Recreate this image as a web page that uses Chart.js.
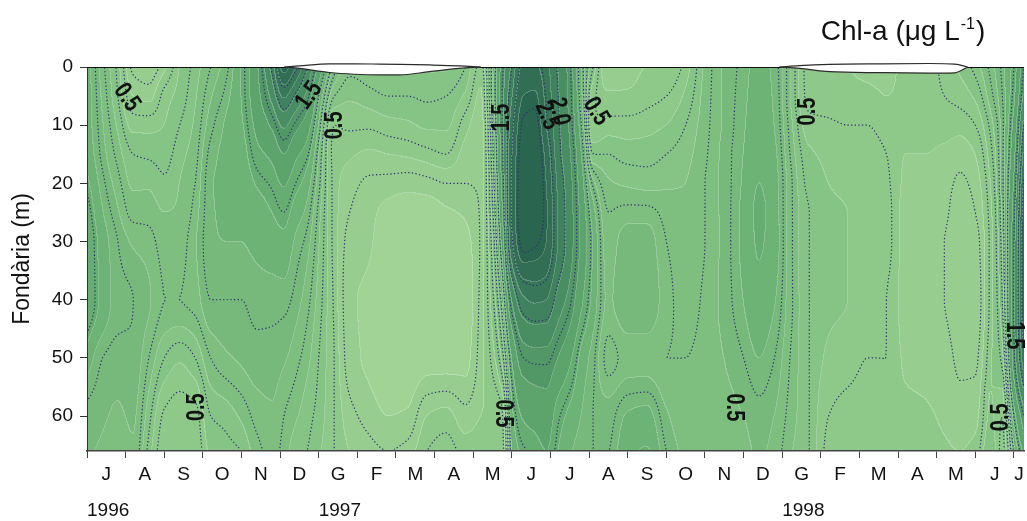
<!DOCTYPE html>
<html>
<head>
<meta charset="utf-8">
<title>Chl-a</title>
<script src="https://cdn.jsdelivr.net/npm/chart.js@4.4.1/dist/chart.umd.min.js"></script>
<style>
  html, body { margin: 0; padding: 0; background: #ffffff; }
  #wrap { width: 1027px; height: 521px; }
</style>
</head>
<body>
<div id="wrap"><canvas id="chart" width="1027" height="521"></canvas></div>
<script>
// Sampling dates, in months counted from 1 July 1996
const sampleMonths = [0, 0.4, 0.8, 1.2, 1.6, 2.0, 2.4, 2.8, 3.2, 3.6, 4.0, 4.4, 4.8, 5.1, 5.4, 5.7, 6.0, 6.4, 6.8, 7.3,
  7.8, 8.3, 8.8, 9.3, 9.8, 10.2, 10.5, 10.75, 11.0, 11.3, 11.6, 11.9, 12.2, 12.5, 12.8, 13.1, 13.5, 14.0, 14.5, 15.0,
  15.5, 16.0, 16.5, 17.0, 17.4, 17.8, 18.2, 18.7, 19.2, 19.7, 20.2, 20.7, 21.2, 21.7, 22.2, 22.6, 23.0, 23.4, 23.7, 24.0, 24.3];

// Sampling depths (m)
const depths = [0, 5, 10, 15, 20, 25, 30, 40, 50, 60, 66];

// Chl-a (µg/L): one profile per sampling date, one value per depth
const chlProfiles = [
  [0.90, 0.90, 0.90, 0.92, 0.98, 1.05, 1.10, 1.10, 0.90, 0.78, 0.76],
  [0.72, 0.74, 0.76, 0.78, 0.82, 0.86, 0.90, 0.92, 0.80, 0.76, 0.74],
  [0.58, 0.60, 0.64, 0.68, 0.72, 0.76, 0.80, 0.82, 0.78, 0.74, 0.72],
  [0.38, 0.45, 0.53, 0.60, 0.64, 0.68, 0.74, 0.80, 0.79, 0.76, 0.74],
  [0.36, 0.43, 0.53, 0.59, 0.64, 0.68, 0.72, 0.76, 0.70, 0.62, 0.58],
  [0.43, 0.52, 0.55, 0.58, 0.61, 0.65, 0.68, 0.70, 0.60, 0.49, 0.46],
  [0.55, 0.57, 0.60, 0.63, 0.65, 0.66, 0.68, 0.70, 0.56, 0.47, 0.45],
  [0.62, 0.64, 0.66, 0.68, 0.70, 0.72, 0.74, 0.72, 0.60, 0.48, 0.46],
  [0.70, 0.74, 0.78, 0.82, 0.84, 0.84, 0.84, 0.80, 0.70, 0.60, 0.56],
  [0.78, 0.82, 0.86, 0.87, 0.87, 0.86, 0.85, 0.80, 0.74, 0.62, 0.58],
  [0.95, 0.95, 0.93, 0.90, 0.88, 0.86, 0.85, 0.80, 0.76, 0.66, 0.60],
  [1.30, 1.25, 1.15, 1.05, 0.96, 0.90, 0.87, 0.82, 0.78, 0.72, 0.68],
  [2.10, 1.75, 1.40, 1.15, 1.02, 0.95, 0.90, 0.82, 0.78, 0.74, 0.72],
  [3.00, 2.30, 1.70, 1.35, 1.12, 1.00, 0.92, 0.82, 0.76, 0.70, 0.68],
  [2.60, 1.95, 1.45, 1.15, 1.00, 0.90, 0.84, 0.78, 0.72, 0.66, 0.62],
  [2.00, 1.58, 1.22, 1.02, 0.90, 0.83, 0.78, 0.72, 0.67, 0.62, 0.60],
  [1.30, 1.00, 0.85, 0.76, 0.72, 0.68, 0.66, 0.63, 0.60, 0.58, 0.56],
  [0.74, 0.60, 0.50, 0.48, 0.48, 0.48, 0.48, 0.49, 0.50, 0.50, 0.50],
  [0.62, 0.56, 0.51, 0.46, 0.42, 0.40, 0.38, 0.36, 0.37, 0.42, 0.45],
  [0.64, 0.58, 0.51, 0.44, 0.39, 0.37, 0.36, 0.34, 0.34, 0.38, 0.42],
  [0.66, 0.60, 0.53, 0.45, 0.38, 0.33, 0.31, 0.30, 0.31, 0.35, 0.40],
  [0.66, 0.60, 0.54, 0.46, 0.37, 0.32, 0.30, 0.28, 0.30, 0.36, 0.42],
  [0.66, 0.61, 0.56, 0.48, 0.38, 0.32, 0.30, 0.29, 0.32, 0.45, 0.50],
  [0.66, 0.60, 0.56, 0.50, 0.40, 0.34, 0.30, 0.29, 0.32, 0.47, 0.53],
  [0.60, 0.54, 0.47, 0.43, 0.40, 0.36, 0.33, 0.31, 0.33, 0.42, 0.48],
  [0.48, 0.44, 0.42, 0.41, 0.41, 0.41, 0.41, 0.42, 0.43, 0.45, 0.48],
  [0.85, 0.85, 0.80, 0.76, 0.72, 0.68, 0.64, 0.58, 0.52, 0.46, 0.46],
  [1.45, 1.50, 1.50, 1.45, 1.38, 1.28, 1.15, 0.85, 0.66, 0.49, 0.48],
  [2.00, 2.20, 2.40, 2.50, 2.55, 2.55, 2.45, 1.65, 1.10, 0.90, 0.84],
  [2.60, 2.85, 3.05, 3.15, 3.20, 3.20, 3.10, 2.20, 1.50, 1.12, 0.98],
  [2.60, 2.90, 3.10, 3.20, 3.25, 3.20, 3.05, 2.30, 1.55, 1.18, 1.02],
  [2.35, 2.45, 2.55, 2.75, 2.85, 2.90, 2.85, 2.25, 1.55, 1.22, 1.10],
  [1.95, 2.00, 2.05, 2.10, 2.20, 2.25, 2.25, 1.85, 1.35, 1.02, 0.95],
  [1.55, 1.58, 1.62, 1.70, 1.78, 1.82, 1.82, 1.55, 1.15, 0.92, 0.86],
  [0.85, 0.90, 1.00, 1.12, 1.22, 1.28, 1.30, 1.15, 0.92, 0.85, 0.82],
  [0.60, 0.52, 0.50, 0.60, 0.78, 0.90, 0.95, 0.92, 0.82, 0.80, 0.80],
  [0.40, 0.46, 0.52, 0.60, 0.66, 0.70, 0.72, 0.74, 0.68, 0.78, 0.80],
  [0.42, 0.46, 0.52, 0.58, 0.64, 0.72, 0.78, 0.80, 0.72, 0.86, 0.92],
  [0.45, 0.48, 0.53, 0.58, 0.63, 0.72, 0.78, 0.80, 0.72, 0.88, 0.96],
  [0.45, 0.50, 0.55, 0.60, 0.64, 0.68, 0.70, 0.72, 0.70, 0.76, 0.80],
  [0.52, 0.56, 0.60, 0.63, 0.65, 0.66, 0.67, 0.68, 0.70, 0.72, 0.74],
  [0.66, 0.67, 0.68, 0.69, 0.70, 0.70, 0.70, 0.71, 0.72, 0.74, 0.75],
  [0.76, 0.76, 0.76, 0.77, 0.77, 0.77, 0.77, 0.77, 0.75, 0.73, 0.72],
  [0.82, 0.83, 0.84, 0.85, 0.86, 0.87, 0.87, 0.85, 0.80, 0.75, 0.73],
  [0.88, 0.89, 0.90, 0.92, 0.95, 0.97, 0.96, 0.92, 0.85, 0.78, 0.76],
  [0.83, 0.84, 0.85, 0.87, 0.89, 0.90, 0.90, 0.86, 0.80, 0.75, 0.73],
  [0.66, 0.66, 0.68, 0.70, 0.72, 0.72, 0.72, 0.72, 0.70, 0.68, 0.66],
  [0.47, 0.48, 0.52, 0.56, 0.58, 0.60, 0.60, 0.60, 0.60, 0.60, 0.60],
  [0.45, 0.47, 0.51, 0.54, 0.55, 0.56, 0.56, 0.56, 0.54, 0.50, 0.48],
  [0.45, 0.46, 0.50, 0.53, 0.54, 0.55, 0.55, 0.55, 0.52, 0.48, 0.46],
  [0.44, 0.46, 0.50, 0.52, 0.53, 0.54, 0.54, 0.53, 0.50, 0.48, 0.46],
  [0.44, 0.45, 0.48, 0.50, 0.51, 0.52, 0.52, 0.50, 0.50, 0.50, 0.50],
  [0.46, 0.46, 0.46, 0.45, 0.44, 0.43, 0.43, 0.43, 0.44, 0.47, 0.50],
  [0.47, 0.47, 0.46, 0.45, 0.43, 0.42, 0.42, 0.42, 0.43, 0.46, 0.48],
  [0.52, 0.50, 0.47, 0.44, 0.42, 0.41, 0.40, 0.40, 0.42, 0.44, 0.46],
  [0.56, 0.52, 0.47, 0.42, 0.39, 0.37, 0.36, 0.37, 0.39, 0.42, 0.45],
  [0.62, 0.56, 0.50, 0.45, 0.42, 0.40, 0.38, 0.37, 0.39, 0.43, 0.47],
  [0.72, 0.68, 0.62, 0.58, 0.55, 0.53, 0.52, 0.52, 0.54, 0.56, 0.60],
  [0.82, 0.80, 0.78, 0.78, 0.78, 0.76, 0.74, 0.70, 0.62, 0.50, 0.48],
  [1.00, 1.05, 1.15, 1.25, 1.35, 1.45, 1.50, 1.55, 1.45, 1.00, 0.80],
  [1.60, 1.80, 2.20, 2.50, 2.80, 2.95, 3.00, 3.00, 2.60, 1.60, 1.20]
];

// Month initials (Catalan) from July 1996 to July 1998
const monthLabels = ['J', 'A', 'S', 'O', 'N', 'D', 'G', 'F', 'M', 'A', 'M', 'J', 'J', 'A', 'S', 'O', 'N', 'D', 'G', 'F', 'M', 'A', 'M', 'J', 'J'];
const yearLabels = ['1996', '1997', '1998'];
const yearStartMonths = [0, 6, 18];

// Reservoir drawdown below full level (m): lower outline and upper outline of each episode
const drawdown1Months = [5.11, 5.5, 6.28, 6.92, 7.57, 8.09, 8.87, 9.64, 10.19];
const drawdown1Lower = [0, 0.25, 0.95, 1.25, 1.37, 1.37, 0.8, 0.25, 0];
const drawdown1Upper = [0, -0.2, -0.55, -0.55, -0.5, -0.45, -0.35, -0.2, 0];
const drawdown2Months = [17.93, 18.45, 19.23, 20.52, 21.82, 22.47, 22.8];
const drawdown2Lower = [0, 0.25, 0.8, 0.97, 1.05, 1.0, 0];
const drawdown2Upper = [0, -0.25, -0.45, -0.55, -0.6, -0.5, 0];

// Filled band limits and dotted isoline levels (µg/L)
const bandLimits = [0.35, 0.45, 0.55, 0.65, 0.75, 0.85, 0.95, 1.1, 1.35, 1.65, 1.95, 2.25, 2.55, 2.85];
const isolineLevels = [0.4, 0.5, 0.6, 0.7, 0.8, 1.0, 1.5, 2.0, 2.5, 3.0];

// Isoline labels: level, approximate position (month, depth) and text angle
const isolineLabelLevels = [0.5, 1.5, 0.5, 0.5, 1.5, 2.0, 2.5, 0.5, 0.5, 0.5, 0.5, 1.5, 0.5];
const isolineLabelMonths = [1.17, 5.8, 6.54, 2.83, 10.78, 11.9, 12.3, 13.0, 10.83, 18.66, 16.74, 24.0, 23.75];
const isolineLabelDepths = [5.1, 5.1, 7.5, 58.4, 8.8, 7.7, 8.2, 7.7, 59.5, 7.7, 58.5, 46.3, 59.0];
const isolineLabelAngles = [55, -55, -90, -90, -90, 78, 68, 58, 90, -90, 90, 90, -90];

const X_MAX = 24.26;
const Y_MAX = 66;
const FONT = "'Liberation Sans', Arial, Helvetica, sans-serif";

const bandColors = ['#a1d395', '#97ce8f', '#8ec98a', '#86c485', '#7ebf80', '#76b97b', '#6eb376', '#66ad71',
  '#5ca36c', '#529867', '#498d62', '#40825d', '#387858', '#316e54', '#2a654f'];

function hexToRgb(h) {
  const n = parseInt(h.slice(1), 16);
  return [(n >> 16) & 255, (n >> 8) & 255, n & 255];
}
const bandRgb = bandColors.map(hexToRgb);

// Monotone piecewise cubic (PCHIP) helpers
function pchipSlopes(x, y) {
  const n = x.length, m = new Float64Array(n);
  const h = new Float64Array(n - 1), del = new Float64Array(n - 1);
  for (let k = 0; k < n - 1; k++) { h[k] = x[k + 1] - x[k]; del[k] = (y[k + 1] - y[k]) / h[k]; }
  m[0] = del[0]; m[n - 1] = del[n - 2];
  for (let k = 1; k < n - 1; k++) {
    if (del[k - 1] * del[k] <= 0) m[k] = 0;
    else {
      const w1 = 2 * h[k] + h[k - 1], w2 = h[k] + 2 * h[k - 1];
      m[k] = (w1 + w2) / (w1 / del[k - 1] + w2 / del[k]);
    }
  }
  return m;
}
function pchipEval(x, y, m, xq) {
  const n = x.length;
  if (xq <= x[0]) return y[0];
  if (xq >= x[n - 1]) return y[n - 1];
  let lo = 0, hi = n - 1;
  while (hi - lo > 1) { const mid = (lo + hi) >> 1; if (x[mid] <= xq) lo = mid; else hi = mid; }
  const h = x[hi] - x[lo], s = (xq - x[lo]) / h, s2 = s * s, s3 = s2 * s;
  return (2 * s3 - 3 * s2 + 1) * y[lo] + (s3 - 2 * s2 + s) * h * m[lo] + (-2 * s3 + 3 * s2) * y[hi] + (s3 - s2) * h * m[hi];
}

// Chl-a value at every pixel of the plot area, located through the chart scales
function computeField(chart) {
  const area = chart.chartArea;
  const xs = chart.scales.x, ys = chart.scales.y;
  const x0 = Math.round(area.left), y0 = Math.round(area.top);
  const W = Math.round(area.right) - x0, H = Math.round(area.bottom) - y0;
  const key = [x0, y0, W, H].join(',');
  if (chart.$chl && chart.$chl.key === key) return chart.$chl;

  const rowDepth = new Float64Array(H);
  for (let j = 0; j < H; j++) rowDepth[j] = ys.getValueForPixel(y0 + j + 0.5);
  const colMonth = new Float64Array(W);
  for (let i = 0; i < W; i++) colMonth[i] = xs.getValueForPixel(x0 + i + 0.5);

  const byDate = chlProfiles.map(p => {
    const s = pchipSlopes(depths, p);
    const out = new Float64Array(H);
    for (let j = 0; j < H; j++) out[j] = pchipEval(depths, p, s, rowDepth[j]);
    return out;
  });
  const values = new Float32Array(W * H);
  const row = new Array(sampleMonths.length);
  for (let j = 0; j < H; j++) {
    for (let k = 0; k < sampleMonths.length; k++) row[k] = byDate[k][j];
    const s = pchipSlopes(sampleMonths, row);
    for (let i = 0; i < W; i++) values[j * W + i] = pchipEval(sampleMonths, row, s, colMonth[i]);
  }
  chart.$chl = { key, x0, y0, W, H, values, lines: null };
  return chart.$chl;
}

function bandOf(v) {
  let b = 0;
  while (b < bandLimits.length && v >= bandLimits[b]) b++;
  return b;
}

function drawBands(chart) {
  const f = computeField(chart);
  const { W, H, values } = f;
  const off = document.createElement('canvas');
  off.width = W; off.height = H;
  const octx = off.getContext('2d');
  const img = octx.createImageData(W, H);
  const band = new Uint8Array(W * H);
  for (let p = 0; p < W * H; p++) band[p] = bandOf(values[p]);
  const d = img.data;
  for (let j = 0; j < H; j++) {
    for (let i = 0; i < W; i++) {
      const p = j * W + i, b = band[p];
      let [r, g, bl] = bandRgb[b];
      const edge = (i < W - 1 && band[p + 1] !== b) || (j < H - 1 && band[p + W] !== b);
      if (edge) { r += (255 - r) * 0.22; g += (255 - g) * 0.22; bl += (255 - bl) * 0.22; }
      d[p * 4] = r; d[p * 4 + 1] = g; d[p * 4 + 2] = bl; d[p * 4 + 3] = 255;
    }
  }
  octx.putImageData(img, 0, 0);
  chart.ctx.drawImage(off, f.x0, f.y0);
}

// Marching squares, chained into polylines (grid coordinates)
function traceIsolines(g, nx, ny, level) {
  const pos = new Map(), adj = new Map();
  const link = (a, b) => {
    if (!adj.has(a)) adj.set(a, []);
    if (!adj.has(b)) adj.set(b, []);
    adj.get(a).push(b); adj.get(b).push(a);
  };
  const hKey = (i, j) => (j * nx + i) * 2, vKey = (i, j) => (j * nx + i) * 2 + 1;
  for (let j = 0; j < ny - 1; j++) {
    for (let i = 0; i < nx - 1; i++) {
      const a = g[j * nx + i], b = g[j * nx + i + 1], c = g[(j + 1) * nx + i + 1], d = g[(j + 1) * nx + i];
      const A = a > level, B = b > level, C = c > level, D = d > level;
      if (A === B && B === C && C === D) continue;
      const e = [];
      if (A !== B) { const k = hKey(i, j); if (!pos.has(k)) pos.set(k, [i + (level - a) / (b - a), j]); e.push(k); } else e.push(-1);
      if (B !== C) { const k = vKey(i + 1, j); if (!pos.has(k)) pos.set(k, [i + 1, j + (level - b) / (c - b)]); e.push(k); } else e.push(-1);
      if (D !== C) { const k = hKey(i, j + 1); if (!pos.has(k)) pos.set(k, [i + (level - d) / (c - d), j + 1]); e.push(k); } else e.push(-1);
      if (A !== D) { const k = vKey(i, j); if (!pos.has(k)) pos.set(k, [i, j + (level - a) / (d - a)]); e.push(k); } else e.push(-1);
      const act = e.filter(k => k >= 0);
      if (act.length === 2) link(act[0], act[1]);
      else if (act.length === 4) {
        const ctr = (a + b + c + d) / 4 > level;
        if (ctr === A) { link(e[0], e[1]); link(e[2], e[3]); }
        else { link(e[0], e[3]); link(e[1], e[2]); }
      }
    }
  }
  const seen = new Set(), lines = [];
  const walk = start => {
    const pts = [pos.get(start)];
    seen.add(start);
    let prev = -1, cur = start;
    for (;;) {
      const nb = adj.get(cur);
      let next = -1;
      for (const n of nb) if (n !== prev && !seen.has(n)) { next = n; break; }
      if (next < 0) {
        if (pts.length > 2 && nb.includes(start)) pts.push(pos.get(start));
        break;
      }
      seen.add(next); pts.push(pos.get(next)); prev = cur; cur = next;
    }
    lines.push(pts);
  };
  for (const [k, nb] of adj) if (nb.length === 1 && !seen.has(k)) walk(k);
  for (const k of adj.keys()) if (!seen.has(k)) walk(k);
  return lines;
}

function buildIsolines(chart) {
  const f = computeField(chart);
  if (f.lines) return f.lines;
  const step = 2;
  const nx = Math.floor((f.W - 1) / step) + 1, ny = Math.floor((f.H - 1) / step) + 1;
  const g = new Float32Array(nx * ny);
  for (let j = 0; j < ny; j++)
    for (let i = 0; i < nx; i++) g[j * nx + i] = f.values[(j * step) * f.W + i * step];
  f.lines = isolineLevels.map(level => ({
    level,
    paths: traceIsolines(g, nx, ny, level).map(pts => pts.map(([gx, gy]) => [f.x0 + gx * step + 0.5, f.y0 + gy * step + 0.5]))
  }));
  return f.lines;
}

function drawIsolines(chart) {
  const ctx = chart.ctx, area = chart.chartArea;
  const sets = buildIsolines(chart);
  ctx.save();
  ctx.beginPath();
  ctx.rect(area.left, area.top, area.right - area.left, area.bottom - area.top);
  ctx.clip();
  ctx.setLineDash([1.3, 2.3]);
  ctx.lineWidth = 1.2;
  ctx.strokeStyle = '#2f2f72';
  for (const set of sets) {
    for (const path of set.paths) {
      if (path.length < 2) continue;
      ctx.beginPath();
      ctx.moveTo(path[0][0], path[0][1]);
      for (let k = 1; k < path.length; k++) ctx.lineTo(path[k][0], path[k][1]);
      ctx.stroke();
    }
  }
  ctx.restore();

  // labels sit on the nearest point of their own isoline
  const xs = chart.scales.x, ys = chart.scales.y;
  ctx.save();
  ctx.fillStyle = '#111111';
  ctx.font = 'bold 20px ' + FONT;
  ctx.textAlign = 'center';
  ctx.textBaseline = 'middle';
  isolineLabelLevels.forEach((level, n) => {
    const px = xs.getPixelForValue(isolineLabelMonths[n]);
    const py = ys.getPixelForValue(isolineLabelDepths[n]);
    const set = sets.find(s => Math.abs(s.level - level) < 1e-9);
    let best = 22 * 22, bx = px, by = py;
    if (set) for (const path of set.paths) for (const [qx, qy] of path) {
      const dd = (qx - px) * (qx - px) + (qy - py) * (qy - py);
      if (dd < best) { best = dd; bx = qx; by = qy; }
    }
    ctx.save();
    ctx.translate(bx, by);
    ctx.rotate(isolineLabelAngles[n] * Math.PI / 180);
    ctx.scale(1, 1.25);
    ctx.fillText(level.toFixed(1), 0, 0);
    ctx.restore();
  });
  ctx.restore();

  // top edge of the plot (full reservoir level)
  ctx.save();
  ctx.fillStyle = '#111111';
  ctx.fillRect(area.left, area.top, area.right - area.left, 1);
  ctx.restore();
}

const chlFieldPlugin = {
  id: 'chlField',
  beforeDraw(chart) { drawBands(chart); },
  beforeDatasetsDraw(chart) { drawIsolines(chart); }
};

const unitTitlePlugin = {
  id: 'unitTitle',
  afterDraw(chart) {
    const ctx = chart.ctx;
    ctx.save();
    ctx.fillStyle = '#111111';
    ctx.textBaseline = 'alphabetic';
    const main = 'Chl-a (\u03bcg L', sup = '-1', close = ')';
    ctx.font = '28px ' + FONT; const wMain = ctx.measureText(main).width, wClose = ctx.measureText(close).width;
    ctx.font = '16px ' + FONT; const wSup = ctx.measureText(sup).width;
    let x = 903 - (wMain + wSup + wClose + 2) / 2;
    const y = 40;
    ctx.font = '28px ' + FONT; ctx.fillText(main, x, y); x += wMain + 1;
    ctx.font = '16px ' + FONT; ctx.fillText(sup, x, y - 11); x += wSup + 1;
    ctx.font = '28px ' + FONT; ctx.fillText(close, x, y);
    ctx.restore();
  }
};

const pts = (months, vals) => months.map((m, i) => ({ x: m, y: vals[i] }));
const outline = {
  borderColor: '#2b2b2b', borderWidth: 1.2, pointRadius: 0, cubicInterpolationMode: 'monotone',
  clip: false, xAxisID: 'x', yAxisID: 'y', backgroundColor: '#ffffff'
};

Chart.defaults.font.family = FONT;
Chart.defaults.color = '#111111';

new Chart(document.getElementById('chart'), {
  type: 'line',
  data: {
    datasets: [
      Object.assign({ data: pts(drawdown1Months, drawdown1Lower), fill: '+1' }, outline),
      Object.assign({ data: pts(drawdown1Months, drawdown1Upper), fill: false }, outline),
      Object.assign({ data: pts(drawdown2Months, drawdown2Lower), fill: '+1' }, outline),
      Object.assign({ data: pts(drawdown2Months, drawdown2Upper), fill: false }, outline)
    ]
  },
  options: {
    responsive: false,
    animation: false,
    events: [],
    layout: { padding: { top: 67, right: 3, left: 0, bottom: 0 } },
    plugins: { legend: { display: false }, tooltip: { enabled: false }, title: { display: false } },
    scales: {
      x: {
        type: 'linear', position: 'bottom', min: 0, max: X_MAX, weight: 0,
        ticks: { display: false, stepSize: 1, includeBounds: false },
        grid: { drawOnChartArea: false, drawTicks: true, tickLength: 7, color: '#444444', lineWidth: 1 },
        border: { display: true, color: '#444444', width: 1.5 },
        afterFit: s => { s.height = 8; s.paddingLeft = 0; s.paddingRight = 0; }
      },
      xMonth: {
        type: 'linear', position: 'bottom', min: 0, max: X_MAX, weight: 1,
        afterBuildTicks: s => { s.ticks = monthLabels.map((_, i) => ({ value: i < 24 ? i + 0.5 : (24 + X_MAX) / 2 })); },
        ticks: { autoSkip: false, maxRotation: 0, minRotation: 0, padding: 4, font: { size: 19 }, callback: (v, i) => monthLabels[i] },
        grid: { display: false, drawTicks: false },
        border: { display: false },
        afterFit: s => { s.height = 30; s.paddingLeft = 0; s.paddingRight = 0; }
      },
      xYear: {
        type: 'linear', position: 'bottom', min: 0, max: X_MAX, weight: 2,
        afterBuildTicks: s => { s.ticks = yearStartMonths.map(v => ({ value: v })); },
        ticks: { autoSkip: false, maxRotation: 0, minRotation: 0, align: 'start', padding: 10, font: { size: 19 }, callback: (v, i) => yearLabels[i] },
        grid: { display: false, drawTicks: false },
        border: { display: false },
        afterFit: s => { s.height = 32; s.paddingLeft = 0; s.paddingRight = 0; }
      },
      y: {
        type: 'linear', position: 'left', reverse: true, min: 0, max: Y_MAX,
        ticks: { stepSize: 10, includeBounds: false, padding: 7, font: { size: 19 } },
        grid: { drawOnChartArea: false, drawTicks: true, tickLength: 7, color: '#333333' },
        border: { display: true, color: '#333333', width: 1 },
        title: { display: true, text: 'Fondària (m)', font: { size: 23 }, padding: { top: 9, bottom: 0 } },
        afterFit: s => { s.width = 87; s.paddingTop = 0; s.paddingBottom = 0; }
      }
    }
  },
  plugins: [chlFieldPlugin, unitTitlePlugin]
});
</script>
</body>
</html>
